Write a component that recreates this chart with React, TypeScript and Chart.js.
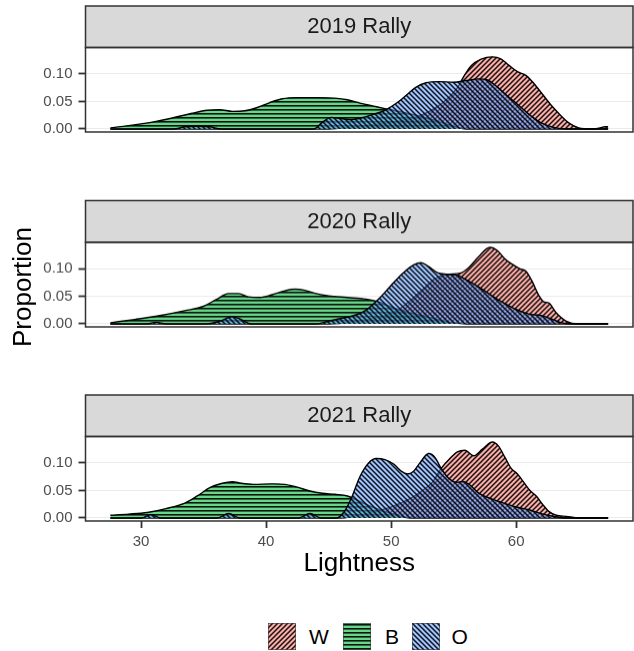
import React, { useEffect, useRef } from "react";
import { Chart, registerables } from "chart.js";

Chart.register(...registerables);

const FONT = '"Liberation Sans", Arial, Helvetica, sans-serif';

// Groups, fill colours and hatch direction
const groups = ["W", "B", "O"];
const groupColours = ["rgba(248,118,109,0.6)", "rgba(0,186,56,0.6)", "rgba(97,156,255,0.6)"];
type Hatch = "up" | "flat" | "down";
const groupHatch: Hatch[] = ["up", "flat", "down"];

const rallies = ["2019 Rally", "2020 Rally", "2021 Rally"];

const xTicks = [30, 40, 50, 60];
const yTicks = [0, 0.05, 0.1];

// ---- 2019 Rally: lightness grid and proportion per group ----
const lightness2019W = [27.55, 45, 47, 49, 51, 52.5, 53.5, 54.5, 55.3, 55.8, 56.4, 57.2, 58.1, 58.8, 59.4, 60.1, 60.8, 61.4, 62.1, 62.8, 63.5, 64.2, 65, 66, 66.7, 67.1, 67.35];
const proportion2019W = [0, 0, 0.004, 0.009, 0.016, 0.026, 0.038, 0.055, 0.075, 0.095, 0.115, 0.127, 0.131, 0.127, 0.116, 0.104, 0.097, 0.083, 0.063, 0.043, 0.026, 0.011, 0.002, 0, 0.002, 0.004, 0.004];
const lightness2019B = [27.55, 29, 31, 32.5, 34, 35.3, 36.3, 37.3, 38.3, 39.3, 40.3, 41.3, 42.5, 44, 45.5, 46.5, 47.5, 48.5, 49.5, 51, 52.5, 54, 55, 56, 67.35];
const proportion2019B = [0.002, 0.006, 0.013, 0.02, 0.028, 0.034, 0.035, 0.032, 0.033, 0.039, 0.048, 0.055, 0.057, 0.057, 0.056, 0.053, 0.047, 0.042, 0.037, 0.03, 0.022, 0.012, 0.005, 0, 0];
const lightness2019O = [27.55, 32.6, 33.5, 34.5, 35.5, 36.4, 43.8, 44.5, 45.2, 46, 46.8, 47.6, 48.5, 49.5, 50.5, 51.3, 52, 52.8, 53.8, 55, 56, 57, 57.7, 58.5, 59.3, 60.1, 61, 62, 63, 64, 67.35];
const proportion2019O = [0, 0, 0.004, 0.005, 0.004, 0, 0, 0.012, 0.021, 0.019, 0.017, 0.02, 0.026, 0.034, 0.048, 0.063, 0.076, 0.084, 0.086, 0.085, 0.088, 0.091, 0.089, 0.076, 0.06, 0.045, 0.027, 0.011, 0.003, 0, 0];

// ---- 2020 Rally ----
const lightness2020W = [27.55, 45, 47, 49, 50.5, 51.5, 52.5, 53.5, 54.5, 55.5, 56.2, 57, 57.9, 58.5, 59.1, 59.7, 60.3, 60.8, 61.3, 61.8, 62.2, 62.6, 63.2, 64, 65, 67.35];
const proportion2020W = [0, 0, 0.004, 0.012, 0.025, 0.042, 0.062, 0.082, 0.09, 0.092, 0.102, 0.122, 0.139, 0.133, 0.118, 0.108, 0.1, 0.095, 0.076, 0.052, 0.04, 0.038, 0.02, 0.005, 0, 0];
const lightness2020B = [27.55, 29.5, 31.5, 33.5, 35, 36, 37, 37.8, 38.6, 39.5, 40.5, 41.5, 42.3, 43.1, 44, 45, 46.5, 48, 49, 50, 51, 52, 53, 54, 55, 56, 67.35];
const proportion2020B = [0.002, 0.008, 0.015, 0.024, 0.032, 0.044, 0.055, 0.055, 0.049, 0.048, 0.053, 0.06, 0.063, 0.061, 0.055, 0.051, 0.048, 0.045, 0.04, 0.031, 0.023, 0.017, 0.012, 0.006, 0.002, 0, 0];
const lightness2020O = [27.55, 30.5, 31.2, 32, 35.2, 36.3, 37.3, 38, 38.8, 44, 45, 46, 47, 48, 49, 50, 51, 51.8, 52.4, 53, 53.7, 54.5, 55.3, 56, 57, 58, 59, 60, 61, 62, 62.7, 63.5, 64.3, 67.35];
const proportion2020O = [0, 0, 0.003, 0, 0, 0.005, 0.013, 0.008, 0, 0, 0.005, 0.01, 0.015, 0.025, 0.045, 0.07, 0.093, 0.107, 0.111, 0.104, 0.093, 0.09, 0.088, 0.08, 0.067, 0.052, 0.038, 0.026, 0.018, 0.015, 0.01, 0.003, 0, 0];

// ---- 2021 Rally ----
const lightness2021W = [27.55, 46, 48, 50, 51.5, 52.5, 53.3, 54, 54.7, 55.3, 55.9, 56.6, 57.3, 58.1, 58.6, 59.1, 59.6, 60.1, 60.6, 61.1, 61.6, 62.1, 62.6, 63.2, 64, 65, 67.35];
const proportion2021W = [0, 0, 0.008, 0.02, 0.035, 0.05, 0.065, 0.09, 0.108, 0.12, 0.123, 0.113, 0.125, 0.138, 0.13, 0.11, 0.09, 0.08, 0.065, 0.05, 0.04, 0.025, 0.012, 0.005, 0.003, 0, 0];
const lightness2021B = [27.55, 29, 30.5, 32, 33.5, 34.5, 35.5, 36.5, 37.3, 38, 39, 40.5, 41.5, 42.5, 43.5, 44.5, 45.5, 46.5, 47.5, 48.5, 49.5, 50.5, 51.5, 67.35];
const proportion2021B = [0.005, 0.007, 0.01, 0.017, 0.027, 0.04, 0.055, 0.063, 0.066, 0.063, 0.061, 0.062, 0.061, 0.056, 0.049, 0.045, 0.043, 0.04, 0.03, 0.02, 0.012, 0.005, 0, 0];
const lightness2021O = [27.55, 30, 30.8, 31.6, 36.1, 37, 37.9, 42.6, 43.5, 44.4, 45.6, 46.2, 46.8, 47.5, 48.2, 48.8, 49.5, 50.2, 50.8, 51.3, 51.8, 52.3, 53, 53.5, 54, 54.6, 55.2, 55.8, 56.3, 57, 58, 59, 60, 61, 62, 63, 64, 67.35];
const proportion2021O = [0, 0, 0.006, 0, 0, 0.008, 0, 0, 0.008, 0, 0, 0.01, 0.035, 0.075, 0.1, 0.108, 0.106, 0.098, 0.085, 0.08, 0.085, 0.1, 0.117, 0.11, 0.09, 0.072, 0.065, 0.066, 0.06, 0.045, 0.035, 0.027, 0.02, 0.015, 0.008, 0.003, 0, 0];

const panelLightness = [
  [lightness2019W, lightness2019B, lightness2019O],
  [lightness2020W, lightness2020B, lightness2020O],
  [lightness2021W, lightness2021B, lightness2021O],
];
const panelProportion = [
  [proportion2019W, proportion2019B, proportion2019O],
  [proportion2020W, proportion2020B, proportion2020O],
  [proportion2021W, proportion2021B, proportion2021O],
];

// Facet geometry (page pixels)
const PLOT_TOPS = [47.5, 242, 436.5];
const CANVAS_TOPS = [4, 198, 393];
const STRIP_H = 41.5;
const PLOT_H = 84.5;
const X_AXIS_H = 58;
const BOTTOM_ROOM = 12;

function hatchPattern(ctx: CanvasRenderingContext2D, colour: string, hatch: Hatch): CanvasPattern {
  const s = hatch === "flat" ? 4 : 5;
  const tile = document.createElement("canvas");
  tile.width = s;
  tile.height = s;
  const t = tile.getContext("2d")!;
  t.fillStyle = colour;
  t.fillRect(0, 0, s, s);
  t.fillStyle = "rgba(0,0,0,0.9)";
  t.strokeStyle = "rgba(0,0,0,0.9)";
  if (hatch === "flat") {
    t.fillRect(0, 1, s, 1.6);
  } else {
    t.lineWidth = 1.5;
    t.beginPath();
    if (hatch === "up") {
      t.moveTo(-1, s + 1); t.lineTo(s + 1, -1);
      t.moveTo(-1, 1); t.lineTo(1, -1);
      t.moveTo(s - 1, s + 1); t.lineTo(s + 1, s - 1);
    } else {
      t.moveTo(-1, -1); t.lineTo(s + 1, s + 1);
      t.moveTo(s - 1, -1); t.lineTo(s + 1, 1);
      t.moveTo(-1, s - 1); t.lineTo(1, s + 1);
    }
    t.stroke();
  }
  return ctx.createPattern(tile, "repeat")!;
}

// Grey facet strip with its label, plus the dark panel frame
const facetFrame = {
  id: "facetFrame",
  afterDatasetsDraw(chart: any, _args: any, opts: any) {
    const { ctx, chartArea: a } = chart;
    const w = a.right - a.left;
    ctx.save();
    ctx.fillStyle = "#D9D9D9";
    ctx.fillRect(a.left, a.top - STRIP_H, w, STRIP_H);
    ctx.strokeStyle = "#333333";
    ctx.lineWidth = 1.5;
    ctx.strokeRect(a.left, a.top - STRIP_H, w, STRIP_H);
    ctx.strokeRect(a.left, a.top, w, a.bottom - a.top);
    ctx.fillStyle = "#1A1A1A";
    ctx.font = `22px ${FONT}`;
    ctx.textAlign = "center";
    ctx.textBaseline = "middle";
    ctx.fillText(opts.label, (a.left + a.right) / 2, a.top - STRIP_H / 2 + 0.5);
    ctx.restore();
  },
};

function Swatch({ index }: { index: number }) {
  const ref = useRef<HTMLCanvasElement>(null);
  useEffect(() => {
    const c = ref.current!;
    const ctx = c.getContext("2d")!;
    ctx.fillStyle = "#fff";
    ctx.fillRect(0, 0, c.width, c.height);
    ctx.fillStyle = hatchPattern(ctx, groupColours[index], groupHatch[index]);
    ctx.fillRect(0, 0, c.width, c.height);
    ctx.strokeStyle = "rgba(60,60,60,0.6)";
    ctx.lineWidth = 1;
    ctx.strokeRect(0.5, 0.5, c.width - 1, c.height - 1);
  }, [index]);
  return <canvas ref={ref} width={28} height={27} style={{ display: "block" }} />;
}

export default function App() {
  const refs = [useRef<HTMLCanvasElement>(null), useRef<HTMLCanvasElement>(null), useRef<HTMLCanvasElement>(null)];

  useEffect(() => {
    const charts: Chart[] = [];
    rallies.forEach((rally, p) => {
      const canvas = refs[p].current!;
      const ctx = canvas.getContext("2d")!;
      const last = p === rallies.length - 1;
      const datasets = groups.map((g, k) => ({
        label: g,
        data: panelLightness[p][k].map((x, i) => ({ x, y: panelProportion[p][k][i] })),
        borderColor: "#000000",
        borderWidth: 1.4,
        backgroundColor: hatchPattern(ctx, groupColours[k], groupHatch[k]),
        fill: "origin",
        pointRadius: 0,
        cubicInterpolationMode: "monotone" as const,
        order: groups.length - k,
      }));
      charts.push(
        new Chart(ctx, {
          type: "line",
          data: { datasets },
          plugins: [facetFrame],
          options: {
            animation: false,
            responsive: false,
            maintainAspectRatio: false,
            events: [],
            layout: {
              padding: { top: PLOT_TOPS[p] - CANVAS_TOPS[p], right: 1, left: 0, bottom: last ? 0 : BOTTOM_ROOM },
            },
            plugins: {
              legend: { display: false },
              tooltip: { enabled: false },
              facetFrame: { label: rally },
            } as any,
            scales: {
              x: {
                type: "linear",
                min: 25.56,
                max: 69.34,
                display: last,
                afterBuildTicks: (s: any) => { s.ticks = xTicks.map((v) => ({ value: v })); },
                afterFit: (s: any) => { s.height = last ? X_AXIS_H : 0; },
                ticks: { font: { family: FONT, size: 15 }, color: "#4D4D4D", padding: 5, maxRotation: 0 },
                grid: { drawOnChartArea: false, tickLength: 7, tickColor: "#333333", tickWidth: 1.8 },
                border: { display: false },
                title: { display: true, text: "Lightness", font: { family: FONT, size: 26 }, color: "#000000", padding: 0 },
              },
              y: {
                min: -0.0055,
                max: 0.148,
                afterFit: (s: any) => {
                  s.width = 85.5;
                  s.paddingTop = 0;
                  s.paddingBottom = 0;
                },
                afterBuildTicks: (s: any) => { s.ticks = yTicks.map((v) => ({ value: v })); },
                ticks: {
                  font: { family: FONT, size: 15 },
                  color: "#4D4D4D",
                  padding: 6,
                  callback: (v: any) => Number(v).toFixed(2),
                },
                grid: { color: "#EBEBEB", lineWidth: 1, tickLength: 7, tickColor: "#333333", tickWidth: 1.8 },
                border: { display: false },
              },
            },
          },
        })
      );
    });
    return () => charts.forEach((c) => c.destroy());
  }, []);

  const canvasHeight = (p: number) =>
    PLOT_TOPS[p] - CANVAS_TOPS[p] + PLOT_H + (p === rallies.length - 1 ? X_AXIS_H : BOTTOM_ROOM);

  const legendSwatchLeft = [267.5, 342.5, 412];
  const legendTextLeft = [309, 385, 451.5];

  return (
    <div
      style={{
        position: "absolute",
        left: 0,
        top: 0,
        width: 634,
        height: 651,
        overflow: "hidden",
        background: "#ffffff",
        fontFamily: FONT,
      }}
    >
      {rallies.map((r, p) => (
        <canvas
          key={r}
          ref={refs[p]}
          width={634}
          height={canvasHeight(p)}
          style={{ position: "absolute", left: 0, top: CANVAS_TOPS[p], width: 634, height: canvasHeight(p) }}
        />
      ))}
      <div
        style={{
          position: "absolute",
          left: 22,
          top: 287,
          transform: "translate(-50%, -50%) rotate(-90deg)",
          fontSize: 26,
          lineHeight: 1,
          whiteSpace: "nowrap",
          color: "#000",
        }}
      >
        Proportion
      </div>
      {groups.map((g, k) => (
        <React.Fragment key={g}>
          <div style={{ position: "absolute", left: legendSwatchLeft[k], top: 622.5 }}>
            <Swatch index={k} />
          </div>
          <div
            style={{
              position: "absolute",
              left: legendTextLeft[k],
              top: 626,
              fontSize: 21,
              lineHeight: "21px",
              color: "#000",
            }}
          >
            {g}
          </div>
        </React.Fragment>
      ))}
    </div>
  );
}
